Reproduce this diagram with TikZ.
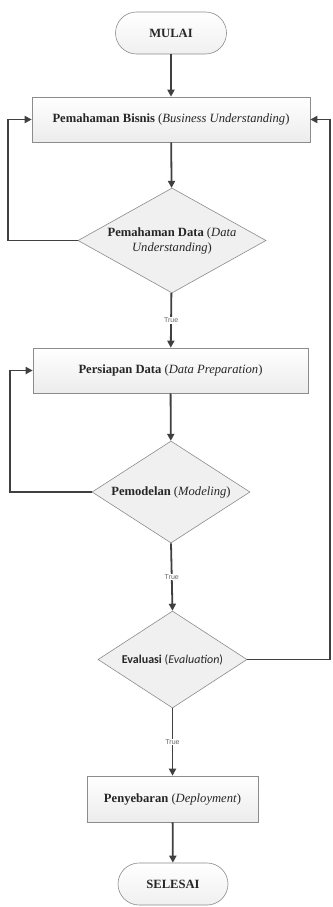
\documentclass[tikz,border=0pt]{standalone}
\usepackage{fontspec}
\setmainfont{Liberation Serif}
\newfontfamily\calib{Carlito}
\newfontfamily\lsans{Liberation Sans}
\usetikzlibrary{shapes.geometric,arrows.meta}
\definecolor{ln}{HTML}{404040}
\definecolor{bd}{HTML}{8C8C8C}
\tikzset{
  base/.style={draw=bd, line width=0.6pt, font=\fontsize{12.6}{15}\selectfont, inner sep=0pt, align=center, text=black!85},
  term/.style={base, rectangle, rounded corners=21pt, minimum width=111pt, minimum height=42pt, top color=white, bottom color=gray!12},
  procbox/.style={base, rectangle, top color=white, bottom color=gray!15},
  dec/.style={base, diamond, fill=gray!12, aspect=1.8},
  conn/.style={draw=ln, line width=1.8pt, -{Triangle[length=7pt,width=7pt]}},
  lbl/.style={font=\lsans\fontsize{7}{8}\selectfont, fill=white, inner sep=1pt, text=black!60}
}
\begin{document}
\begin{tikzpicture}[x=1pt,y=-1pt]
\useasboundingbox (0,0) rectangle (332,907);
\node[term] (mulai) at (171,33) {\textbf{MULAI}};
\node[procbox, minimum width=278pt, minimum height=45pt] (bisnis) at (171,119.5)
  {\textbf{Pemahaman Bisnis} (\textit{Business Understanding})};
\node[dec, minimum width=188pt, minimum height=105pt] (data) at (172,240.5)
  {\textbf{Pemahaman Data} (\textit{Data}\\\textit{Understanding})};
\node[procbox, minimum width=275pt, minimum height=45pt] (prep) at (170.5,370.5)
  {\textbf{Persiapan Data} (\textit{Data Preparation})};
\node[dec, minimum width=158pt, minimum height=102pt] (model) at (171,492)
  {\textbf{Pemodelan} (\textit{Modeling})};
\node[dec, minimum width=149pt, minimum height=97pt, font=\calib\fontsize{12}{14}\selectfont] (eval) at (172.5,659.5)
  {\textbf{Evaluasi} (\textit{Evaluation})};
\node[procbox, minimum width=171pt, minimum height=46pt] (deploy) at (172.5,799)
  {\textbf{Penyebaran} (\textit{Deployment})};
\node[term, minimum width=110pt] (selesai) at (173,884) {\textbf{SELESAI}};

\coordinate (l1) at (8,240.5);
\coordinate (l1t) at (8,119.5);
\coordinate (l2) at (10,492);
\coordinate (l2t) at (10,370.5);
\coordinate (r1) at (330,659.5);
\coordinate (r1t) at (330,119.5);

\draw[conn] (mulai) -- (bisnis);
\draw[conn] (bisnis) -- (data);
\draw[conn] (data) -- node[lbl]{True} (prep);
\draw[conn] (prep) -- (model);
\draw[conn] (model.south) -- node[lbl]{True} (eval.north);
\draw[conn] (eval) -- node[lbl]{True} (deploy);
\draw[conn] (deploy) -- (selesai);
\draw[conn] (data.west) -- (l1) -- (l1t) -- (bisnis.west);
\draw[conn] (model.west) -- (l2) -- (l2t) -- (prep.west);
\draw[conn] (eval.east) -- (r1) -- (r1t) -- (bisnis.east);
\end{tikzpicture}
\end{document}
